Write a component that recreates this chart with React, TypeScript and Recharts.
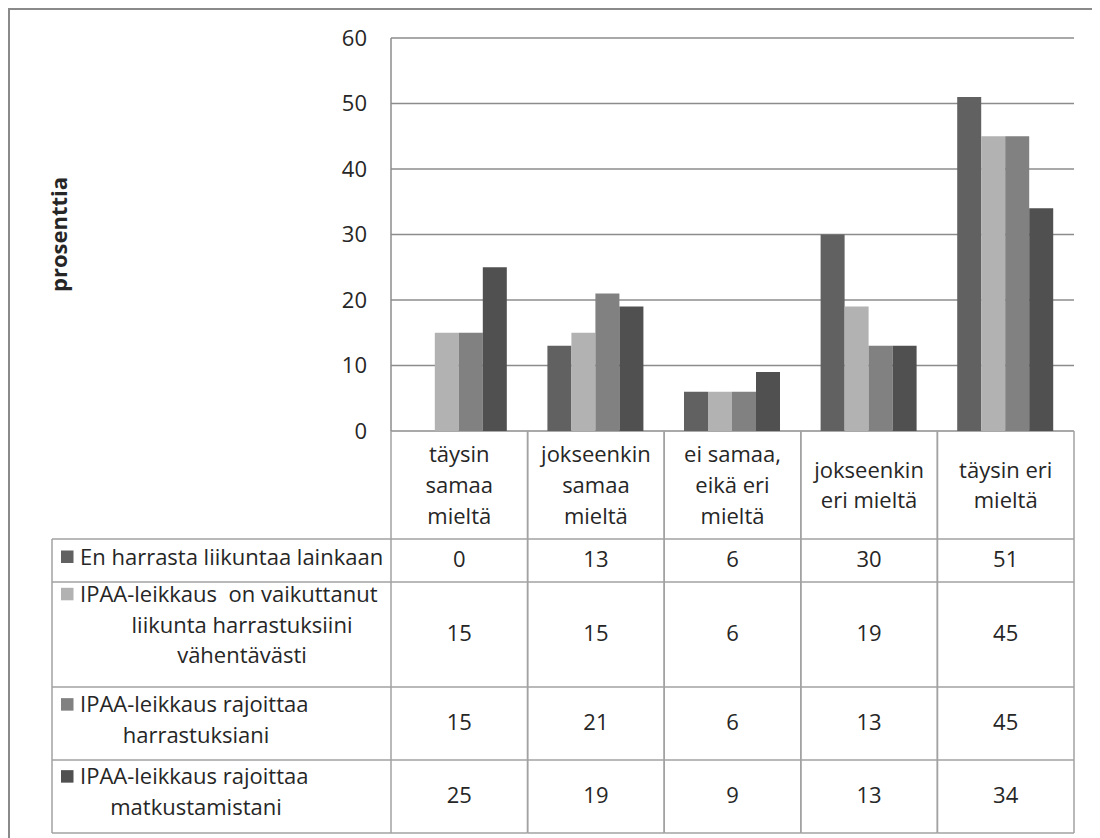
import React from "react";
import { BarChart, Bar, XAxis, YAxis, CartesianGrid } from "recharts";

// answer categories (line breaks as shown in the table header)
const CATEGORIES = [
  "täysin\nsamaa\nmieltä",
  "jokseenkin\nsamaa\nmieltä",
  "ei samaa,\neikä eri\nmieltä",
  "jokseenkin\neri mieltä",
  "täysin eri\nmieltä",
];

const SERIES_NAMES = [
  "En harrasta liikuntaa lainkaan",
  "IPAA-leikkaus  on vaikuttanut\nliikunta harrastuksiini\nvähentävästi",
  "IPAA-leikkaus rajoittaa\nharrastuksiani",
  "IPAA-leikkaus rajoittaa\nmatkustamistani",
];

const NO_EXERCISE = [0, 13, 6, 30, 51];
const REDUCED_EXERCISE = [15, 15, 6, 19, 45];
const LIMITS_HOBBIES = [15, 21, 6, 13, 45];
const LIMITS_TRAVEL = [25, 19, 9, 13, 34];

const Y_TICKS = [0, 10, 20, 30, 40, 50, 60];

const SERIES_VALUES = [NO_EXERCISE, REDUCED_EXERCISE, LIMITS_HOBBIES, LIMITS_TRAVEL];
const COLORS = ["#616161", "#b2b2b2", "#818181", "#505050"];

const data = CATEGORIES.map((name, i) => ({
  name,
  s0: NO_EXERCISE[i],
  s1: REDUCED_EXERCISE[i],
  s2: LIMITS_HOBBIES[i],
  s3: LIMITS_TRAVEL[i],
}));

// layout
const W = 1090;
const H = 828;
const Y_AXIS_W = 381;
const M_TOP = 28;
const M_RIGHT = 26;
const TABLE_H = 402;
const PLOT_W = W - Y_AXIS_W - M_RIGHT;
const BAND = PLOT_W / CATEGORIES.length;

const FONT = "'Open Sans', sans-serif";
const FS = 22;
const LINE_H = 30.7;
const TEXT = "#262626";
const GRID = "#8c8c8c";
const CELL = "#a2a2a2";

// table rows below the plot, offsets from the zero line
const HEAD_H = 108;
const ROW_EDGES = [108, 151, 256, 329, 402];
const TABLE_LEFT = 42;
const KEY_X = 51;
const KEY_SIZE = 12.5;
const LABEL_X = 70;
const ROW_LINE_CENTER = [0, 232, 186, 186];
const HEADER_SHIFT = [4, -2, 4, 3];

const TableTick = (props: any) => {
  const { x, y, payload, index } = props;
  const left = x - BAND / 2;
  const right = x + BAND / 2;
  const catLines = String(payload.value).split("\n");
  const headMid = y + HEAD_H / 2;

  return (
    <g>
      <line x1={left} x2={left} y1={y} y2={y + TABLE_H} stroke={CELL} strokeWidth={1.5} />
      <line x1={right} x2={right} y1={y} y2={y + TABLE_H} stroke={CELL} strokeWidth={1.5} />
      {ROW_EDGES.map((e) => (
        <line key={e} x1={left} x2={right} y1={y + e} y2={y + e} stroke={CELL} strokeWidth={1.5} />
      ))}
      {catLines.map((ln, k) => (
        <text
          key={k}
          x={x}
          y={headMid + 8 + (k - (catLines.length - 1) / 2) * LINE_H}
          textAnchor="middle"
          fontSize={FS}
          fill={TEXT}
        >
          {ln}
        </text>
      ))}
      {SERIES_VALUES.map((vals, r) => {
        const mid = y + (ROW_EDGES[r] + ROW_EDGES[r + 1]) / 2;
        return (
          <text key={r} x={x} y={mid + 6.5} textAnchor="middle" fontSize={FS} fill={TEXT}>
            {vals[index]}
          </text>
        );
      })}
      {index === 0 && (
        <g>
          <line x1={TABLE_LEFT} x2={TABLE_LEFT} y1={y + HEAD_H} y2={y + TABLE_H} stroke={CELL} strokeWidth={1.5} />
          {ROW_EDGES.map((e) => (
            <line key={e} x1={TABLE_LEFT} x2={left} y1={y + e} y2={y + e} stroke={CELL} strokeWidth={1.5} />
          ))}
          {SERIES_NAMES.map((name, r) => {
            const lines = name.split("\n");
            const mid = y + (ROW_EDGES[r] + ROW_EDGES[r + 1]) / 2 + HEADER_SHIFT[r];
            return (
              <g key={r}>
                {lines.map((ln, k) => {
                  const by = mid + (k - (lines.length - 1) / 2) * LINE_H;
                  if (k === 0) {
                    return (
                      <g key={k}>
                        <rect x={KEY_X} y={by - 14} width={KEY_SIZE} height={KEY_SIZE} fill={COLORS[r]} />
                        <text x={LABEL_X} y={by} fontSize={FS} fill={TEXT} style={{ whiteSpace: "pre" }}>
                          {ln}
                        </text>
                      </g>
                    );
                  }
                  return (
                    <text key={k} x={ROW_LINE_CENTER[r]} y={by} textAnchor="middle" fontSize={FS} fill={TEXT}>
                      {ln}
                    </text>
                  );
                })}
              </g>
            );
          })}
        </g>
      )}
    </g>
  );
};

export default function App() {
  return (
    <div
      style={{
        width: 1092,
        height: 830,
        boxSizing: "border-box",
        borderTop: "2px solid #8a8a8a",
        borderLeft: "2px solid #8a8a8a",
        fontFamily: FONT,
        background: "#fff",
      }}
    >
      <BarChart
        width={W}
        height={H}
        data={data}
        margin={{ top: M_TOP, right: M_RIGHT, left: 0, bottom: H - M_TOP - 393 - TABLE_H }}
        barCategoryGap="14.5%"
        barGap={0}
      >
        <CartesianGrid vertical={false} stroke={GRID} strokeWidth={1.5} />
        <XAxis
          dataKey="name"
          height={TABLE_H}
          axisLine={false}
          tickLine={false}
          tickSize={0}
          tickMargin={0}
          interval={0}
          tick={(p: any) => <TableTick {...p} />}
        />
        <YAxis
          width={Y_AXIS_W}
          domain={[0, 60]}
          ticks={Y_TICKS}
          interval={0}
          axisLine={{ stroke: GRID, strokeWidth: 1.5 }}
          tickLine={false}
          tickSize={0}
          tickMargin={24}
          tick={{ fontSize: FS, fill: TEXT, fontFamily: FONT }}
          label={{
            content: (lp: any) => {
              const vb = lp.viewBox || {};
              const cx = (vb.x || 0) + 48;
              const cy = (vb.y || 0) + (vb.height || 0) / 2;
              return (
                <text
                  x={cx}
                  y={cy}
                  transform={`rotate(-90 ${cx} ${cy})`}
                  textAnchor="middle"
                  dominantBaseline="central"
                  fontSize={FS}
                  fontWeight="bold"
                  fill={TEXT}
                >
                  prosenttia
                </text>
              );
            },
          }}
        />
        {SERIES_NAMES.map((name, i) => (
          <Bar key={i} dataKey={`s${i}`} name={name} fill={COLORS[i]} isAnimationActive={false} />
        ))}
      </BarChart>
    </div>
  );
}
